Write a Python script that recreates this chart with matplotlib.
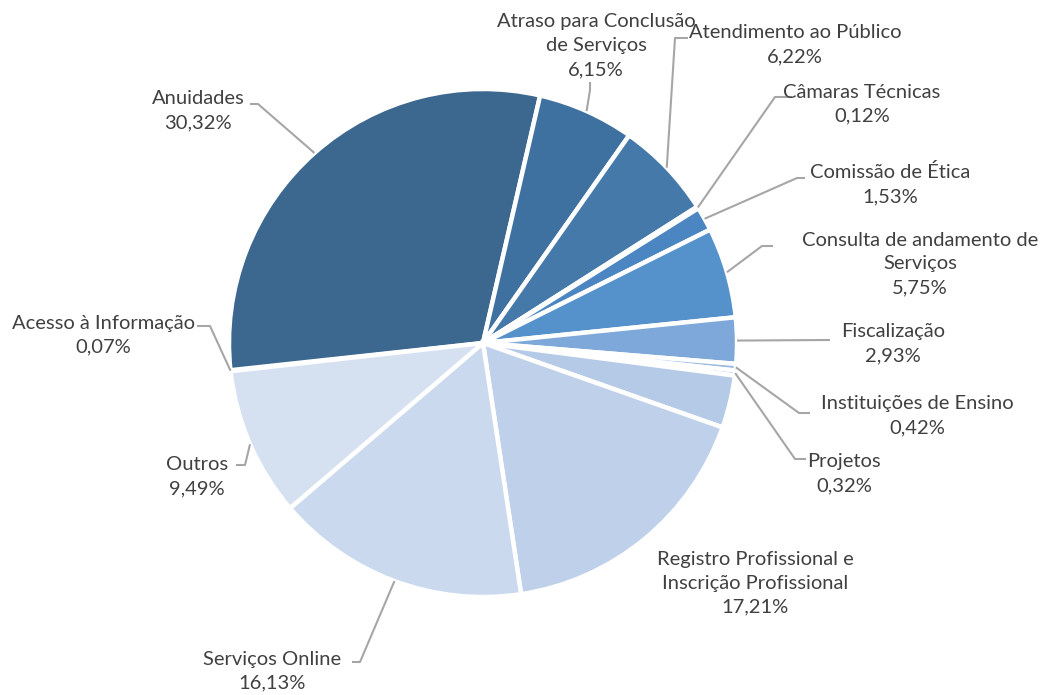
import numpy as np
import matplotlib
matplotlib.use("Agg")
import matplotlib.pyplot as plt

# data (clockwise, Excel order)
categories = ["Acesso à Informação", "Anuidades", "Atraso para Conclusão\nde Serviços",
              "Atendimento ao Público", "Câmaras Técnicas", "Comissão de Ética",
              "Consulta de andamento de\nServiços", "Fiscalização", "Instituições de Ensino",
              "Projetos", "", "Registro Profissional e\nInscrição Profissional",
              "Serviços Online", "Outros"]
values = [0.07, 30.32, 6.15, 6.22, 0.12, 1.53, 5.75, 2.93, 0.42, 0.32, 3.34, 17.21, 16.13, 9.49]
pct_labels = ["0,07%", "30,32%", "6,15%", "6,22%", "0,12%", "1,53%", "5,75%", "2,93%",
              "0,42%", "0,32%", "", "17,21%", "16,13%", "9,49%"]
colors = ["#DCE5F3", "#3C6890", "#3E71A0", "#4479AA", "#4680B8", "#4B85C2", "#5591CB",
          "#7EA8D9", "#9BBBE3", "#A9C4E7", "#B5CAE7", "#BFD1EA", "#CBD9EE", "#D5E0F1"]

W, H = 1040, 695
cx, cy, R = 483, 343, 254

# label centre (pixels, y down) and leader path from text side to elbow
label_pos = [(103, 335), (198, 111), (596, 46), (795, 45), (862, 104), (890, 184),
             (920, 264), (893, 344), (917, 416), (844, 474), None, (755, 583),
             (272, 671), (197, 477)]
leader = [[(197, 326), (210, 326)], [(250, 104), (258, 104)], [(590, 82), (590, 90)],
          [(688, 38), (675, 38)], [(792, 97), (775, 97)], [(805, 178), (797, 178)],
          [(773, 246), (762, 246)], [(830, 340), (830, 340)], [(810, 413), (799, 413)],
          [(806, 459), (795, 459)], None, None,
          [(352, 662), (360, 662)], [(236, 465), (245, 465)]]

plt.rcParams['font.family'] = ['Lato', 'DejaVu Sans']

fig = plt.figure(figsize=(W / 100, H / 100), dpi=100)
ax = fig.add_axes([0, 0, 1, 1])
wedges, _ = ax.pie(values, colors=colors, startangle=186.4, counterclock=False,
                   center=(cx, H - cy), radius=R,
                   wedgeprops=dict(edgecolor='white', linewidth=3.2))
ax.set_xlim(0, W)
ax.set_ylim(0, H)
ax.set_aspect('equal')
ax.axis('off')

for i, w in enumerate(wedges):
    if label_pos[i] is None:
        continue
    tx, ty = label_pos[i]
    ax.text(tx, H - ty, categories[i] + "\n" + pct_labels[i], ha='center', va='center',
            fontsize=14.5, color='#404040', linespacing=1.5)
    if leader[i] is None:
        continue
    # leader ends on the rim at the middle of the wedge
    mid = np.deg2rad((w.theta1 + w.theta2) / 2)
    ex = cx + R * np.cos(mid)
    ey = H - cy + R * np.sin(mid)
    xs = [p[0] for p in leader[i]] + [ex]
    ys = [H - p[1] for p in leader[i]] + [ey]
    ax.plot(xs, ys, color='#A6A6A6', lw=1.5, solid_capstyle='butt')

fig.savefig("out.png", dpi=100)
